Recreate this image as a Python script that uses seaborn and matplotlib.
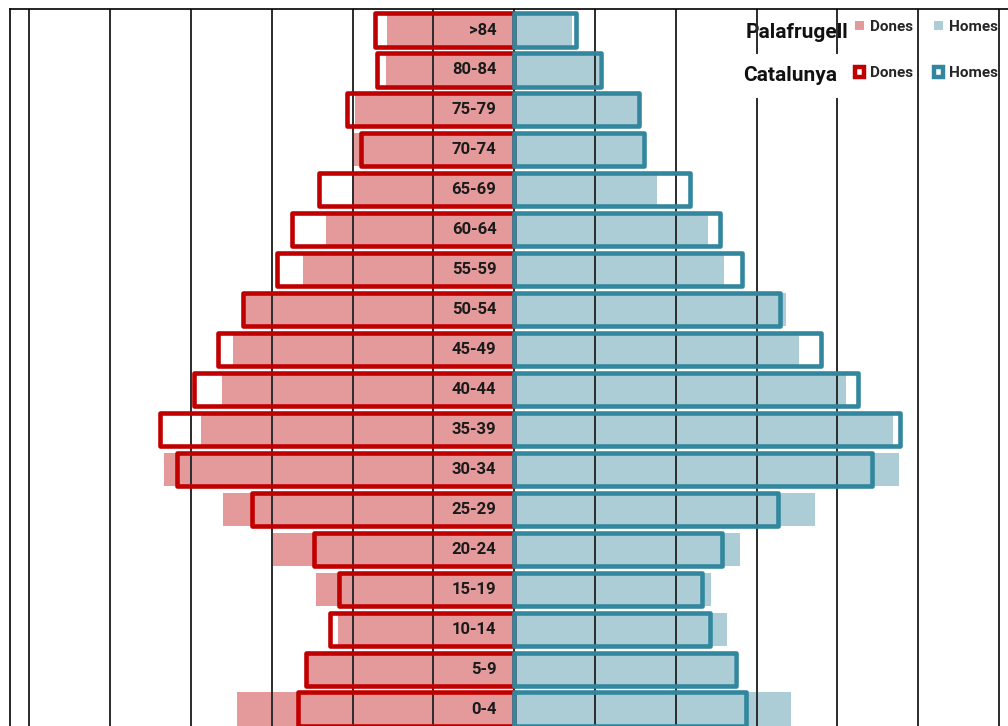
import matplotlib
matplotlib.use("Agg")
import matplotlib.pyplot as plt
from matplotlib.patches import Patch
import seaborn as sns
import numpy as np
import pandas as pd

# age groups, top to bottom
ages = [">84", "80-84", "75-79", "70-74", "65-69", "60-64", "55-59", "50-54", "45-49",
        "40-44", "35-39", "30-34", "25-29", "20-24", "15-19", "10-14", "5-9", "0-4"]

# % of population, Palafrugell (filled bars)
pal_dones = [1.58, 1.59, 1.97, 2.00, 2.01, 2.33, 2.61, 3.37, 3.48,
             3.62, 3.87, 4.33, 3.61, 2.99, 2.45, 2.18, 2.57, 3.43]
pal_homes = [0.71, 1.05, 1.53, 1.59, 1.77, 2.40, 2.60, 3.36, 3.52,
             4.11, 4.69, 4.76, 3.72, 2.79, 2.44, 2.63, 2.72, 3.43]

# % of population, Catalunya (outlined bars)
cat_dones = [1.72, 1.70, 2.07, 1.89, 2.42, 2.75, 2.94, 3.36, 3.67,
             3.96, 4.38, 4.17, 3.25, 2.48, 2.17, 2.28, 2.58, 2.68]
cat_homes = [0.77, 1.07, 1.54, 1.61, 2.17, 2.55, 2.82, 3.29, 3.80,
             4.26, 4.78, 4.43, 3.27, 2.57, 2.33, 2.42, 2.74, 2.87]

PINK = "#E49A9A"
LBLUE = "#ADCDD6"
RED = "#C00000"
TEAL = "#32879E"


def main():
    sns.set_style("white")
    plt.rcParams["font.family"] = ["Roboto", "DejaVu Sans"]

    df = pd.DataFrame({
        "edat": ages,
        "pal_dones": -np.array(pal_dones),
        "pal_homes": np.array(pal_homes),
        "cat_dones": -np.array(cat_dones),
        "cat_homes": np.array(cat_homes),
    })

    fig = plt.figure(figsize=(10.08, 7.26), dpi=100)
    ax = fig.add_axes([10 / 1008, 1 - 733 / 726, 1008.4 / 1008, 724 / 726])

    # filled bars (Palafrugell)
    for col, c in [("pal_dones", PINK), ("pal_homes", LBLUE)]:
        sns.barplot(data=df, x=col, y="edat", order=ages, orient="y", color=c,
                    saturation=1, width=0.83, errorbar=None, linewidth=0,
                    ax=ax, zorder=1)

    # vertical grid drawn over the filled bars
    for v in range(-6, 7):
        ax.axvline(v, color="#2b2b2b", lw=1.4, zorder=2)

    # outlined bars (Catalunya)
    n_before = len(ax.patches)
    for col, c in [("cat_dones", RED), ("cat_homes", TEAL)]:
        sns.barplot(data=df, x=col, y="edat", order=ages, orient="y", color=c,
                    saturation=1, width=0.83, errorbar=None, fill=False,
                    linewidth=3.3, ax=ax, zorder=3)
    for p in ax.patches[n_before:]:
        p.set_joinstyle("round")
        p.set_facecolor("none")

    for i, a in enumerate(ages):
        ax.text(-0.22, i, a, ha="right", va="center", fontsize=12,
                fontweight="bold", color="#1a1a1a", zorder=4)

    ax.set_xlim(-6.24, 6.24)
    ax.set_ylim(17.6, -0.526)
    ax.set_xticks([])
    ax.set_yticks([])
    ax.set_xlabel("")
    ax.set_ylabel("")
    for s in ["left", "top", "right", "bottom"]:
        ax.spines[s].set_color("black")
        ax.spines[s].set_linewidth(1.2)

    # legend
    ax.text(4.13, 0.2, "Palafrugell", ha="right", va="baseline", fontsize=15,
            fontweight="bold", color="#111111", zorder=1.5)
    ax.text(4.0, 1.277, "Catalunya", ha="right", va="baseline", fontsize=15,
            fontweight="bold", color="#111111", zorder=5,
            bbox=dict(facecolor="white", edgecolor="none", pad=9))
    handles = [Patch(facecolor=PINK, edgecolor="none"),
               Patch(facecolor="white", edgecolor=RED, lw=3.2),
               Patch(facecolor=LBLUE, edgecolor="none"),
               Patch(facecolor="white", edgecolor=TEAL, lw=3.2)]
    labels = ["Dones", "Dones", "Homes", "Homes"]
    fig.legend(handles, labels, ncol=2, loc="upper left",
               bbox_to_anchor=(855 / 1008, 1 - 20 / 726), frameon=False,
               prop={"size": 11, "weight": "bold"}, handlelength=0.6,
               handleheight=0.6, handletextpad=0.35, columnspacing=1.4,
               labelspacing=2.1, borderpad=0, borderaxespad=0)

    fig.savefig("out.png", dpi=100)


if __name__ == "__main__":
    main()
